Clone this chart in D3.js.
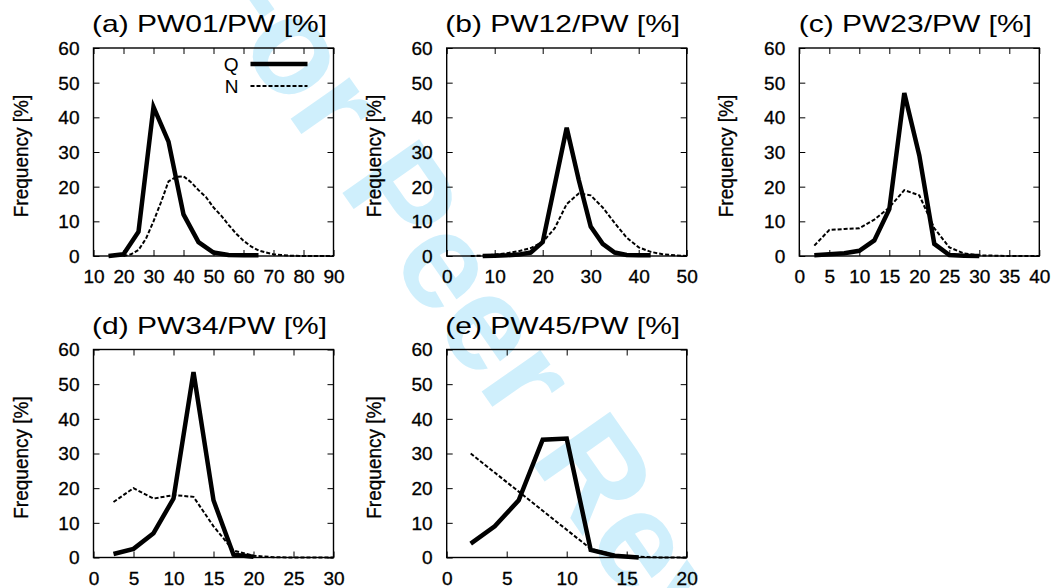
<!DOCTYPE html>
<html lang="en">
   <head>
      <meta charset="UTF-8" />
      <title>PW ratio frequency</title>
      <style>
         body { margin: 0; background: #fff; }
         svg { display: block; font-family: "Liberation Sans", Arial, Helvetica, sans-serif; }
      </style>
   </head>
   <body>
      <svg width="1054" height="588"></svg>
      <script src="https://cdn.jsdelivr.net/npm/d3@7/dist/d3.min.js"></script>
      <script>
         // (a) PW01/PW
         var qxA = [15, 20, 25, 30, 35, 40, 45, 50, 55, 60, 65];
         var qA  = [0, 0.5, 7, 43, 33, 12, 4, 1, 0.3, 0.2, 0.2];
         var nxA = [20, 22.5, 25, 27.5, 30, 32.5, 35, 37.5, 40, 42.5, 45, 47.5, 50, 52.5, 55, 57.5,
                    60, 62.5, 65, 67.5, 70, 72.5, 75, 77.5, 80, 82.5, 85, 87.5, 90];
         var nA  = [0, 0.5, 1.7, 5, 10, 15.5, 21.5, 22.8, 23, 21.3, 19, 17, 14, 11.7, 9, 6.5,
                    4.4, 2.8, 1.6, 1, 0.5, 0.3, 0.1, 0.05, 0, 0, 0, 0, 0];

         // (b) PW12/PW
         var qxB = [7.5, 10, 12.5, 15, 17.5, 20, 22.5, 25, 27.5, 30, 32.5, 35, 37.5, 40, 42.5];
         var qB  = [0, 0.1, 0.2, 0.4, 1, 4, 20.5, 37, 22, 8.5, 3.5, 1, 0.3, 0.2, 0.2];
         var nxB = [5, 7.5, 10, 12.5, 15, 17.5, 20, 22.5, 25, 27.5, 30, 32.5, 35, 37.5, 40, 42.5, 45, 47.5, 50];
         var nB  = [0, 0.1, 0.4, 0.8, 1.4, 2.3, 4, 8, 15, 18, 17.5, 14, 9.5, 5.3, 2.5, 1.2, 0.5, 0.2, 0];

         // (c) PW23/PW
         var qxC = [2.5, 5, 7.5, 10, 12.5, 15, 17.5, 20, 22.5, 25, 27.5, 30];
         var qC  = [0.2, 0.5, 0.8, 1.5, 4.5, 13.5, 47, 29, 3.5, 0.3, 0.1, 0];
         var nxC = [2.5, 5, 7.5, 10, 12.5, 15, 17.5, 20, 22.5, 25, 27.5, 30, 32.5, 35, 37.5, 40];
         var nC  = [3, 7.5, 7.8, 8, 10.5, 14, 19, 17.5, 8, 2.5, 0.7, 0.2, 0.1, 0, 0, 0];

         // (d) PW34/PW
         var qxD = [2.5, 5, 7.5, 10, 12.5, 15, 17.5, 20];
         var qD  = [1, 2.5, 7, 17, 53.5, 16.5, 0.8, 0.2];
         var nxD = [2.5, 5, 7.5, 10, 12.5, 15, 17.5, 20, 22.5, 25, 27.5, 30];
         var nD  = [16, 20, 17, 18, 17.5, 9, 2, 0.5, 0.1, 0, 0, 0];

         // (e) PW45/PW
         var qxE = [2, 4, 6, 8, 10, 12, 14, 16];
         var qE  = [4, 9, 16.5, 34, 34.3, 2.2, 0.5, 0];
         var nxE = [2, 4, 6, 8, 10, 12, 14, 16, 18, 20];
         var nE  = [30, 24.5, 19, 13.5, 8, 2.5, 0.7, 0.2, 0, 0];

         var titles = ["(a) PW01/PW [%]", "(b) PW12/PW [%]", "(c) PW23/PW [%]", "(d) PW34/PW [%]", "(e) PW45/PW [%]"];
         var xDomains = [[10, 90], [0, 50], [0, 40], [0, 30], [0, 20]];
         var xSteps = [10, 10, 5, 5, 5];
         var yTicks = [0, 10, 20, 30, 40, 50, 60];
         var legendNames = ["Q", "N"];

         var panels = [
            {q: [qxA, qA], n: [nxA, nA]},
            {q: [qxB, qB], n: [nxB, nB]},
            {q: [qxC, qC], n: [nxC, nC]},
            {q: [qxD, qD], n: [nxD, nD]},
            {q: [qxE, qE], n: [nxE, nE]}
         ];

         var svg = d3.select("svg"),
             width = 240,
             height = 208,
             lefts = [93.5, 446.7, 799.3],
             tops = [48, 349.5],
             stretch = 1.06;

         // watermark behind everything
         svg.append("text")
            .attr("transform", "translate(190,-25) rotate(55)")
            .style("font-size", "136px")
            .style("font-weight", "bold")
            .style("fill", "#cfeffc")
            .text("For Peer Review");

         var y = d3.scaleLinear().domain([0, 60]).range([height, 0]);

         panels.forEach(function(p, i) {
            var g = svg.append("g")
               .attr("transform", "translate(" + lefts[i % 3] + "," + tops[Math.floor(i / 3)] + ")");

            var x = d3.scaleLinear().domain(xDomains[i]).range([0, width]);
            var xt = d3.range(xDomains[i][0], xDomains[i][1] + 0.01, xSteps[i]);

            // bottom axis with labels
            var gx = g.append("g")
               .attr("transform", "translate(0," + height + ")")
               .call(d3.axisBottom(x).tickValues(xt).tickSizeInner(-6).tickSizeOuter(0));
            gx.selectAll("text")
               .attr("y", 0).attr("dy", null)
               .attr("transform", "translate(0,27) scale(" + stretch + ",1)");

            // left axis with labels
            var gy = g.append("g")
               .call(d3.axisLeft(y).tickValues(yTicks).tickSizeInner(-6).tickSizeOuter(0));
            gy.selectAll("text")
               .attr("x", 0).attr("dy", "0.36em")
               .attr("transform", "translate(-14,0) scale(" + stretch + ",1)");

            // mirror ticks top and right
            g.append("g")
               .call(d3.axisTop(x).tickValues(xt).tickSizeInner(-6).tickSizeOuter(0).tickFormat(""));
            g.append("g")
               .attr("transform", "translate(" + width + ",0)")
               .call(d3.axisRight(y).tickValues(yTicks).tickSizeInner(-6).tickSizeOuter(0).tickFormat(""));

            g.selectAll(".domain").remove();
            g.selectAll(".tick line").attr("stroke", "#000").attr("stroke-width", 1);
            g.selectAll(".tick text")
               .style("font-size", "18px")
               .style("font-family", "'Liberation Sans', Arial, sans-serif")
               .attr("fill", "#000")
               .attr("stroke", "#000")
               .attr("stroke-width", 0.3);

            var line = d3.line()
               .x(function(d) { return x(d[0]); })
               .y(function(d) { return y(d[1]); });

            var nPts = d3.zip(p.n[0], p.n[1]);
            var qPts = d3.zip(p.q[0], p.q[1]);

            g.append("path")
               .datum(nPts)
               .attr("d", line)
               .attr("fill", "none")
               .attr("stroke", "#000")
               .attr("stroke-width", 2)
               .attr("stroke-dasharray", "4,2");

            g.append("path")
               .datum(qPts)
               .attr("d", line)
               .attr("fill", "none")
               .attr("stroke", "#000")
               .attr("stroke-width", 4.5)
               .attr("stroke-linejoin", "miter");

            g.append("rect")
               .attr("width", width)
               .attr("height", height)
               .attr("fill", "none")
               .attr("stroke", "#000")
               .attr("stroke-width", 1.4);

            // title
            g.append("text")
               .attr("transform", "translate(" + (width / 2 - 4) + ",-16) scale(1.25,1)")
               .attr("text-anchor", "middle")
               .style("font-size", "24px")
               .text(titles[i]);

            // y label
            g.append("text")
               .attr("transform", "translate(-66," + (height / 2 + 4) + ") rotate(-90) scale(1,1.1)")
               .attr("text-anchor", "middle")
               .attr("stroke", "#000")
               .attr("stroke-width", 0.3)
               .style("font-size", "19px")
               .text("Frequency [%]");

            // legend only in first panel
            if (i === 0) {
               var lg = g.append("g").attr("transform", "translate(" + (width - 95) + ",16)");
               legendNames.forEach(function(name, k) {
                  lg.append("text")
                     .attr("transform", "translate(0," + (k * 22 + 7) + ") scale(" + stretch + ",1)")
                     .attr("text-anchor", "end")
                     .style("font-size", "18px")
                     .text(name);
                  lg.append("line")
                     .attr("x1", 12).attr("x2", 69)
                     .attr("y1", k * 22).attr("y2", k * 22)
                     .attr("stroke", "#000")
                     .attr("stroke-width", k === 0 ? 4.5 : 2)
                     .attr("stroke-dasharray", k === 0 ? null : "4,2");
               });
            }
         });
      </script>
   </body>
</html>
